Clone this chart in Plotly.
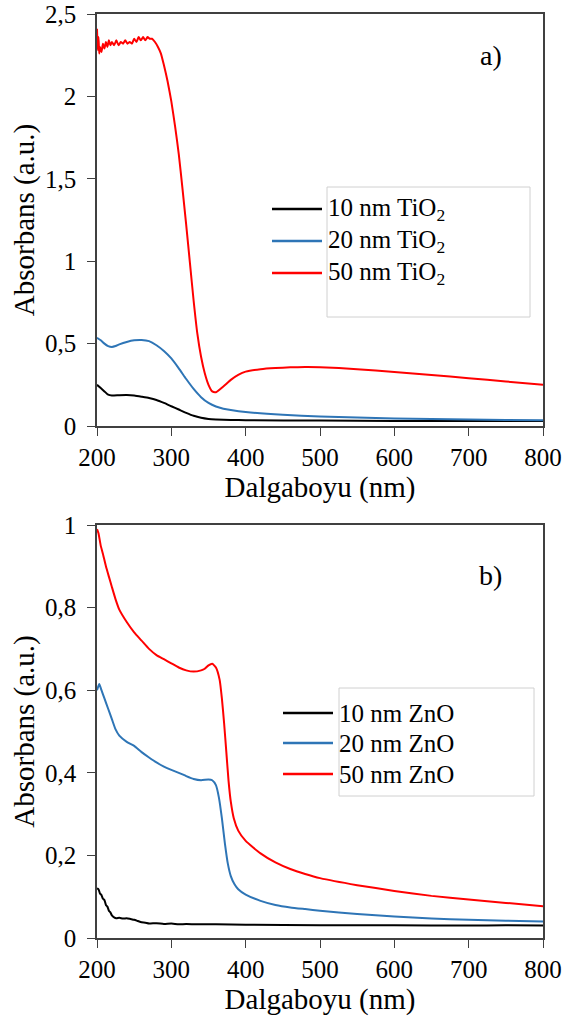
import plotly.graph_objects as go

W, H = 566, 1021

# ---------------- data ----------------
wl_tio2_10 = [200, 205, 210, 215, 220, 230, 240, 250, 260, 270, 280, 290, 300, 310, 320, 330, 340, 350, 360, 380, 400, 500, 600, 700, 800]
abs_tio2_10 = [0.25, 0.23, 0.21, 0.19, 0.185, 0.187, 0.188, 0.185, 0.178, 0.17, 0.158, 0.14, 0.12, 0.10, 0.08, 0.062, 0.05, 0.043, 0.04, 0.037, 0.035, 0.033, 0.031, 0.03, 0.03]

wl_tio2_20 = [200, 205, 210, 215, 220, 225, 230, 240, 250, 260, 270, 280, 290, 300, 310, 320, 330, 340, 350, 360, 370, 380, 400, 450, 500, 550, 600, 650, 700, 750, 800]
abs_tio2_20 = [0.535, 0.52, 0.50, 0.485, 0.48, 0.485, 0.495, 0.51, 0.52, 0.522, 0.515, 0.49, 0.455, 0.41, 0.35, 0.285, 0.225, 0.175, 0.14, 0.118, 0.105, 0.097, 0.085, 0.068, 0.058, 0.051, 0.046, 0.042, 0.039, 0.037, 0.035]

wl_tio2_50 = [200, 201, 202, 203, 204, 206, 208, 210, 212, 214, 216, 218, 220, 223, 226, 229, 232, 235, 238, 241, 244, 247, 250, 253, 256, 259, 262, 265, 268, 271, 274, 278, 282, 286, 290, 295, 300, 305, 310, 315, 320, 325, 330, 335, 340, 345, 350, 355, 360, 370, 380, 390, 400, 420, 440, 460, 480, 500, 550, 600, 650, 700, 750, 800]
abs_tio2_50 = [2.41, 2.28, 2.36, 2.26, 2.30, 2.27, 2.32, 2.29, 2.33, 2.30, 2.34, 2.31, 2.33, 2.31, 2.34, 2.31, 2.33, 2.32, 2.34, 2.32, 2.33, 2.32, 2.35, 2.33, 2.36, 2.34, 2.36, 2.34, 2.36, 2.35, 2.35, 2.33, 2.30, 2.26, 2.19, 2.09, 1.97, 1.82, 1.65, 1.44, 1.22, 0.99, 0.76, 0.56, 0.42, 0.32, 0.25, 0.21, 0.205, 0.24, 0.28, 0.31, 0.33, 0.345, 0.352, 0.356, 0.358, 0.357, 0.345, 0.328, 0.31, 0.29, 0.27, 0.25]

wl_zno_10 = [200, 202, 204, 206, 208, 210, 212, 214, 216, 218, 220, 223, 226, 230, 235, 240, 245, 250, 255, 260, 265, 270, 280, 290, 300, 310, 320, 340, 360, 400, 500, 600, 700, 750, 800]
abs_zno_10 = [0.12, 0.118, 0.108, 0.104, 0.095, 0.092, 0.08, 0.076, 0.066, 0.062, 0.055, 0.05, 0.048, 0.049, 0.047, 0.048, 0.046, 0.044, 0.041, 0.038, 0.037, 0.035, 0.036, 0.034, 0.035, 0.033, 0.034, 0.033, 0.033, 0.032, 0.031, 0.031, 0.03, 0.031, 0.03]

wl_zno_20 = [200, 203, 206, 210, 215, 220, 225, 230, 240, 250, 260, 270, 280, 290, 300, 310, 320, 330, 340, 350, 355, 360, 364, 368, 372, 376, 380, 385, 390, 400, 420, 440, 460, 480, 500, 550, 600, 650, 700, 750, 800]
abs_zno_20 = [0.60, 0.615, 0.60, 0.58, 0.555, 0.53, 0.505, 0.49, 0.475, 0.465, 0.45, 0.437, 0.425, 0.415, 0.407, 0.40, 0.392, 0.385, 0.382, 0.384, 0.382, 0.37, 0.34, 0.29, 0.23, 0.18, 0.15, 0.13, 0.118, 0.105, 0.09, 0.08, 0.074, 0.07, 0.066, 0.058, 0.052, 0.047, 0.044, 0.042, 0.04]

wl_zno_50 = [200, 202, 205, 208, 212, 216, 220, 225, 230, 240, 250, 260, 270, 280, 290, 300, 310, 320, 330, 340, 345, 350, 355, 360, 365, 368, 371, 374, 377, 380, 384, 390, 400, 420, 440, 460, 480, 500, 550, 600, 650, 700, 750, 800]
abs_zno_50 = [0.99, 0.98, 0.95, 0.93, 0.90, 0.875, 0.85, 0.82, 0.795, 0.765, 0.74, 0.72, 0.70, 0.685, 0.675, 0.665, 0.655, 0.648, 0.645, 0.648, 0.652, 0.66, 0.664, 0.655, 0.625, 0.58, 0.52, 0.45, 0.38, 0.33, 0.29, 0.26, 0.235, 0.205, 0.183, 0.167, 0.155, 0.145, 0.128, 0.114, 0.102, 0.093, 0.085, 0.077]

names_tio2 = ["10 nm TiO<sub>2</sub>", "20 nm TiO<sub>2</sub>", "50 nm TiO<sub>2</sub>"]
names_zno = ["10 nm ZnO", "20 nm ZnO", "50 nm ZnO"]
colors = ["#000000", "#2E75B6", "#FF0000"]

x_ticks = [200, 300, 400, 500, 600, 700, 800]
y1_ticks = [0, 0.5, 1, 1.5, 2, 2.5]
y1_ticktext = ["0", "0,5", "1", "1,5", "2", "2,5"]
y2_ticks = [0, 0.2, 0.4, 0.6, 0.8, 1]
y2_ticktext = ["0", "0,2", "0,4", "0,6", "0,8", "1"]

# ---------------- figure ----------------
FONT = "Liberation Serif, Times New Roman, DejaVu Serif, serif"
AX = "#404040"

def px(x):
    return x / W

def py(y):
    return 1 - y / H

fig = go.Figure()

tio2 = [(wl_tio2_10, abs_tio2_10), (wl_tio2_20, abs_tio2_20), (wl_tio2_50, abs_tio2_50)]
zno = [(wl_zno_10, abs_zno_10), (wl_zno_20, abs_zno_20), (wl_zno_50, abs_zno_50)]

for (xs, ys), nm, c in zip(tio2, names_tio2, colors):
    fig.add_trace(go.Scatter(x=xs, y=ys, name=nm, mode="lines",
                             line=dict(color=c, width=2, shape="spline", smoothing=0.5),
                             xaxis="x", yaxis="y", showlegend=False))
for (xs, ys), nm, c in zip(zno, names_zno, colors):
    fig.add_trace(go.Scatter(x=xs, y=ys, name=nm, mode="lines",
                             line=dict(color=c, width=2, shape="spline", smoothing=0.5),
                             xaxis="x2", yaxis="y2", showlegend=False))

common_x = dict(range=[200, 800], tickvals=x_ticks, ticks="outside", ticklen=8, tickcolor=AX,
                showline=True, linecolor=AX, linewidth=1.5, mirror=True, showgrid=False, zeroline=False,
                automargin=False,
                tickfont=dict(family=FONT, size=25, color="#000"),
                title=dict(text="Dalgaboyu (nm)", font=dict(family=FONT, size=29, color="#000"), standoff=4))
common_y = dict(ticks="outside", ticklen=8, tickcolor=AX, ticklabelstandoff=6,
                showline=True, linecolor=AX, linewidth=1.5, mirror=True, showgrid=False, zeroline=False,
                automargin=False,
                tickfont=dict(family=FONT, size=25, color="#000"),
                title=dict(text="Absorbans (a.u.)", font=dict(family=FONT, size=29, color="#000"), standoff=2))

x_dom = [px(97), px(543)]
fig.update_layout(
    width=W, height=H, margin=dict(l=0, r=0, t=0, b=0),
    paper_bgcolor="white", plot_bgcolor="white",
    xaxis=dict(domain=x_dom, anchor="y", **common_x),
    yaxis=dict(domain=[py(426), py(14)], anchor="x", range=[0, 2.5], tickvals=y1_ticks, ticktext=y1_ticktext, **common_y),
    xaxis2=dict(domain=x_dom, anchor="y2", **common_x),
    yaxis2=dict(domain=[py(938), py(525)], anchor="x2", range=[0, 1], tickvals=y2_ticks, ticktext=y2_ticktext, **common_y),
    showlegend=False,
)

shapes = []
annotations = []

def legend(names, line_x0, line_x1, ys, box):
    for nm, c, yy in zip(names, colors, ys):
        shapes.append(dict(type="line", xref="paper", yref="paper", x0=px(line_x0), x1=px(line_x1),
                           y0=py(yy), y1=py(yy), line=dict(color=c, width=2.5)))
        annotations.append(dict(text=nm, xref="paper", yref="paper", x=px(line_x1 + 4), y=py(yy),
                                xanchor="left", yanchor="middle", showarrow=False,
                                font=dict(family=FONT, size=25, color="#000")))
    bx0, by0, bx1, by1 = box
    shapes.append(dict(type="rect", xref="paper", yref="paper", x0=px(bx0), x1=px(bx1), y0=py(by1), y1=py(by0),
                       line=dict(color="#d0d0d0", width=1), fillcolor="rgba(0,0,0,0)"))

legend(names_tio2, 272, 322, [209, 241, 273], (327, 187, 530, 317))
legend(names_zno, 283, 333, [713, 743, 774], (339, 688, 534, 796))

annotations.append(dict(text="a)", xref="paper", yref="paper", x=px(491), y=py(55), showarrow=False,
                        xanchor="center", yanchor="middle", font=dict(family=FONT, size=28, color="#000")))
annotations.append(dict(text="b)", xref="paper", yref="paper", x=px(491), y=py(575), showarrow=False,
                        xanchor="center", yanchor="middle", font=dict(family=FONT, size=28, color="#000")))

fig.update_layout(shapes=shapes, annotations=annotations)
fig.write_html("out.html")
